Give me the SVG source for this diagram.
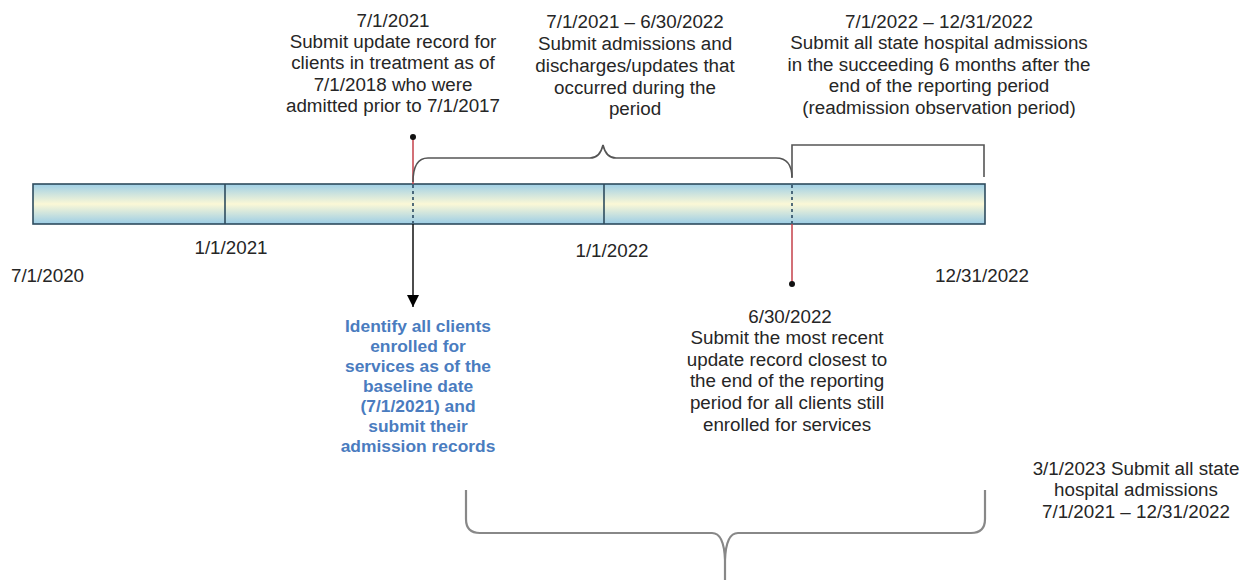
<svg xmlns="http://www.w3.org/2000/svg" width="1247" height="580" viewBox="0 0 1247 580">
<defs>
<linearGradient id="barGrad" x1="0" y1="0" x2="0" y2="1">
<stop offset="0" stop-color="#9fcfe6"/>
<stop offset="0.5" stop-color="#fbf8d6"/>
<stop offset="1" stop-color="#9ccde6"/>
</linearGradient>
<marker id="arrowHead" viewBox="0 0 10 10" refX="10" refY="5" markerWidth="12" markerHeight="13" markerUnits="userSpaceOnUse" orient="auto">
<path d="M0,0 L10,5 L0,10 Z" fill="#000"/>
</marker>
<style>
.t{font-family:"Liberation Sans",Arial,sans-serif;font-size:18.8px;fill:#262626;text-anchor:middle}
.b{font-family:"Liberation Sans",Arial,sans-serif;font-size:17.4px;font-weight:bold;fill:#4a7cbf;text-anchor:middle}
.brace{fill:none;stroke:#555;stroke-width:1.6}
.brace2{fill:none;stroke:#888;stroke-width:2.2}
.red{stroke:#c4414a;stroke-width:1.5}
.dash{stroke:#2b4a63;stroke-width:1.6;stroke-dasharray:3,3}
</style>
</defs>
<rect width="1247" height="580" fill="#fff"/>
<g id="timeline">
<rect x="33" y="184" width="952" height="40" fill="url(#barGrad)" stroke="#2e4c5e" stroke-width="1.6"/>
<line x1="225" y1="184" x2="225" y2="224" stroke="#2e4c5e" stroke-width="1.6"/>
<line x1="604" y1="184" x2="604" y2="224" stroke="#2e4c5e" stroke-width="1.6"/>
<line x1="413" y1="185" x2="413" y2="223" class="dash"/>
<line x1="792" y1="185" x2="792" y2="223" class="dash"/>
</g>
<g id="connectors">
<line x1="413" y1="137" x2="413" y2="184" class="red"/>
<circle cx="413" cy="137" r="3" fill="#111"/>
<line x1="413" y1="224" x2="413" y2="307" stroke="#111" stroke-width="1.5" marker-end="url(#arrowHead)"/>
<line x1="792" y1="224" x2="792" y2="284" class="red"/>
<circle cx="792" cy="284" r="3" fill="#111"/>
<path class="brace" d="M413,182 Q413,158 428,158 L590,158 Q600,158 603,145 Q606,158 616,158 L776,158 Q792,158 792,178"/>
<path class="brace" d="M792,177 L792,145 L984,145 L984,177"/>
<path class="brace2" d="M466,490 L466,519 Q466,533 480,533 L712,533 Q724,533 725,560 L725,580 M985,490 L985,519 Q985,533 971,533 L738,533 Q726,533 725,560"/>
</g>
<g id="axis-labels">
<text class="t" x="47.5" y="281.5">7/1/2020</text>
<text class="t" x="231" y="253.5">1/1/2021</text>
<text class="t" x="612" y="256.5">1/1/2022</text>
<text class="t" x="982" y="281.5">12/31/2022</text>
</g>
<g id="node-baseline-update">
<text class="t" x="393" y="26.5">7/1/2021</text>
<text class="t" x="393" y="48">Submit update record for</text>
<text class="t" x="393" y="69.3">clients in treatment as of</text>
<text class="t" x="393" y="90.6">7/1/2018 who were</text>
<text class="t" x="393" y="111.9">admitted prior to 7/1/2017</text>
</g>
<g id="node-period">
<text class="t" x="635" y="27.5">7/1/2021 – 6/30/2022</text>
<text class="t" x="635" y="49.5">Submit admissions and</text>
<text class="t" x="635" y="71.5">discharges/updates that</text>
<text class="t" x="635" y="93.5">occurred during the</text>
<text class="t" x="635" y="115">period</text>
</g>
<g id="node-readmission">
<text class="t" x="939" y="27.5">7/1/2022 – 12/31/2022</text>
<text class="t" x="939" y="49.2">Submit all state hospital admissions</text>
<text class="t" x="939" y="70.8">in the succeeding 6 months after the</text>
<text class="t" x="939" y="92.4">end of the reporting period</text>
<text class="t" x="939" y="114">(readmission observation period)</text>
</g>
<g id="node-identify">
<text class="b" x="418" y="332">Identify all clients</text>
<text class="b" x="418" y="352">enrolled for</text>
<text class="b" x="418" y="372">services as of the</text>
<text class="b" x="418" y="392">baseline date</text>
<text class="b" x="418" y="412">(7/1/2021) and</text>
<text class="b" x="418" y="432">submit their</text>
<text class="b" x="418" y="452">admission records</text>
</g>
<g id="node-end-update">
<text class="t" x="790" y="322.5">6/30/2022</text>
<text class="t" x="787" y="344.2">Submit the most recent</text>
<text class="t" x="787" y="365.8">update record closest to</text>
<text class="t" x="787" y="387.4">the end of the reporting</text>
<text class="t" x="787" y="409">period for all clients still</text>
<text class="t" x="787" y="430.6">enrolled for services</text>
</g>
<g id="node-final">
<text class="t" x="1136" y="474.5">3/1/2023 Submit all state</text>
<text class="t" x="1136" y="496">hospital admissions</text>
<text class="t" x="1136" y="517.5">7/1/2021 – 12/31/2022</text>
</g>
</svg>
